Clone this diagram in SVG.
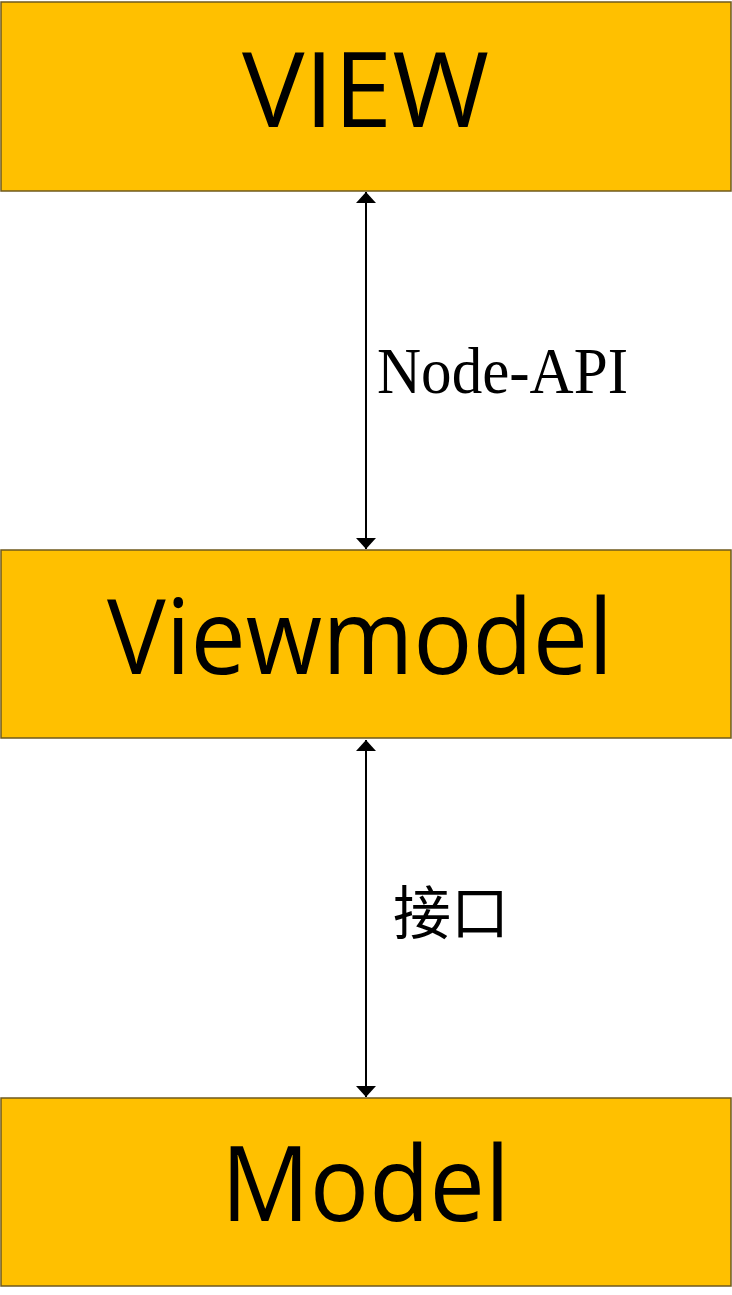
<svg xmlns="http://www.w3.org/2000/svg" width="732" height="1295" viewBox="0 0 732 1295">
<style>
.box{fill:#FFC000;stroke:#6F5A1E;stroke-width:1.5}
.title{font-family:"Open Sans","Noto Sans",sans-serif;font-size:104px;fill:#000}
.lbl{font-family:"Liberation Serif",serif;font-size:65px;fill:#000}
.cjk{font-family:"Liberation Serif","Noto Sans CJK SC",serif;font-size:58px;fill:#000}
.conn{stroke:#000;stroke-width:2;fill:none}
</style>
<defs>
<marker id="ah" viewBox="0 0 11 20" refX="11" refY="10" markerWidth="11" markerHeight="20" markerUnits="userSpaceOnUse" orient="auto-start-reverse">
<path d="M0,0 L11,10 L0,20 Z" fill="#000"/>
</marker>
</defs>
<g id="connectors">
<line class="conn" x1="366" y1="192" x2="366" y2="549" marker-start="url(#ah)" marker-end="url(#ah)"/>
<line class="conn" x1="366" y1="740" x2="366" y2="1097" marker-start="url(#ah)" marker-end="url(#ah)"/>
<text class="lbl" x="377" y="393" textLength="251" lengthAdjust="spacingAndGlyphs">Node-API</text>
<text class="cjk" x="393" y="934">接口</text>
</g>
<g id="view">
<rect class="box" x="1" y="2" width="730" height="189"/>
<text class="title" x="242" y="127" textLength="247" lengthAdjust="spacingAndGlyphs">VIEW</text>
</g>
<g id="viewmodel">
<rect class="box" x="1" y="550" width="730" height="188"/>
<text class="title" x="107" y="674" textLength="506" lengthAdjust="spacingAndGlyphs">Viewmodel</text>
</g>
<g id="model">
<rect class="box" x="1" y="1098" width="730" height="188"/>
<text class="title" x="221" y="1221" textLength="289" lengthAdjust="spacingAndGlyphs">Model</text>
</g>
</svg>
